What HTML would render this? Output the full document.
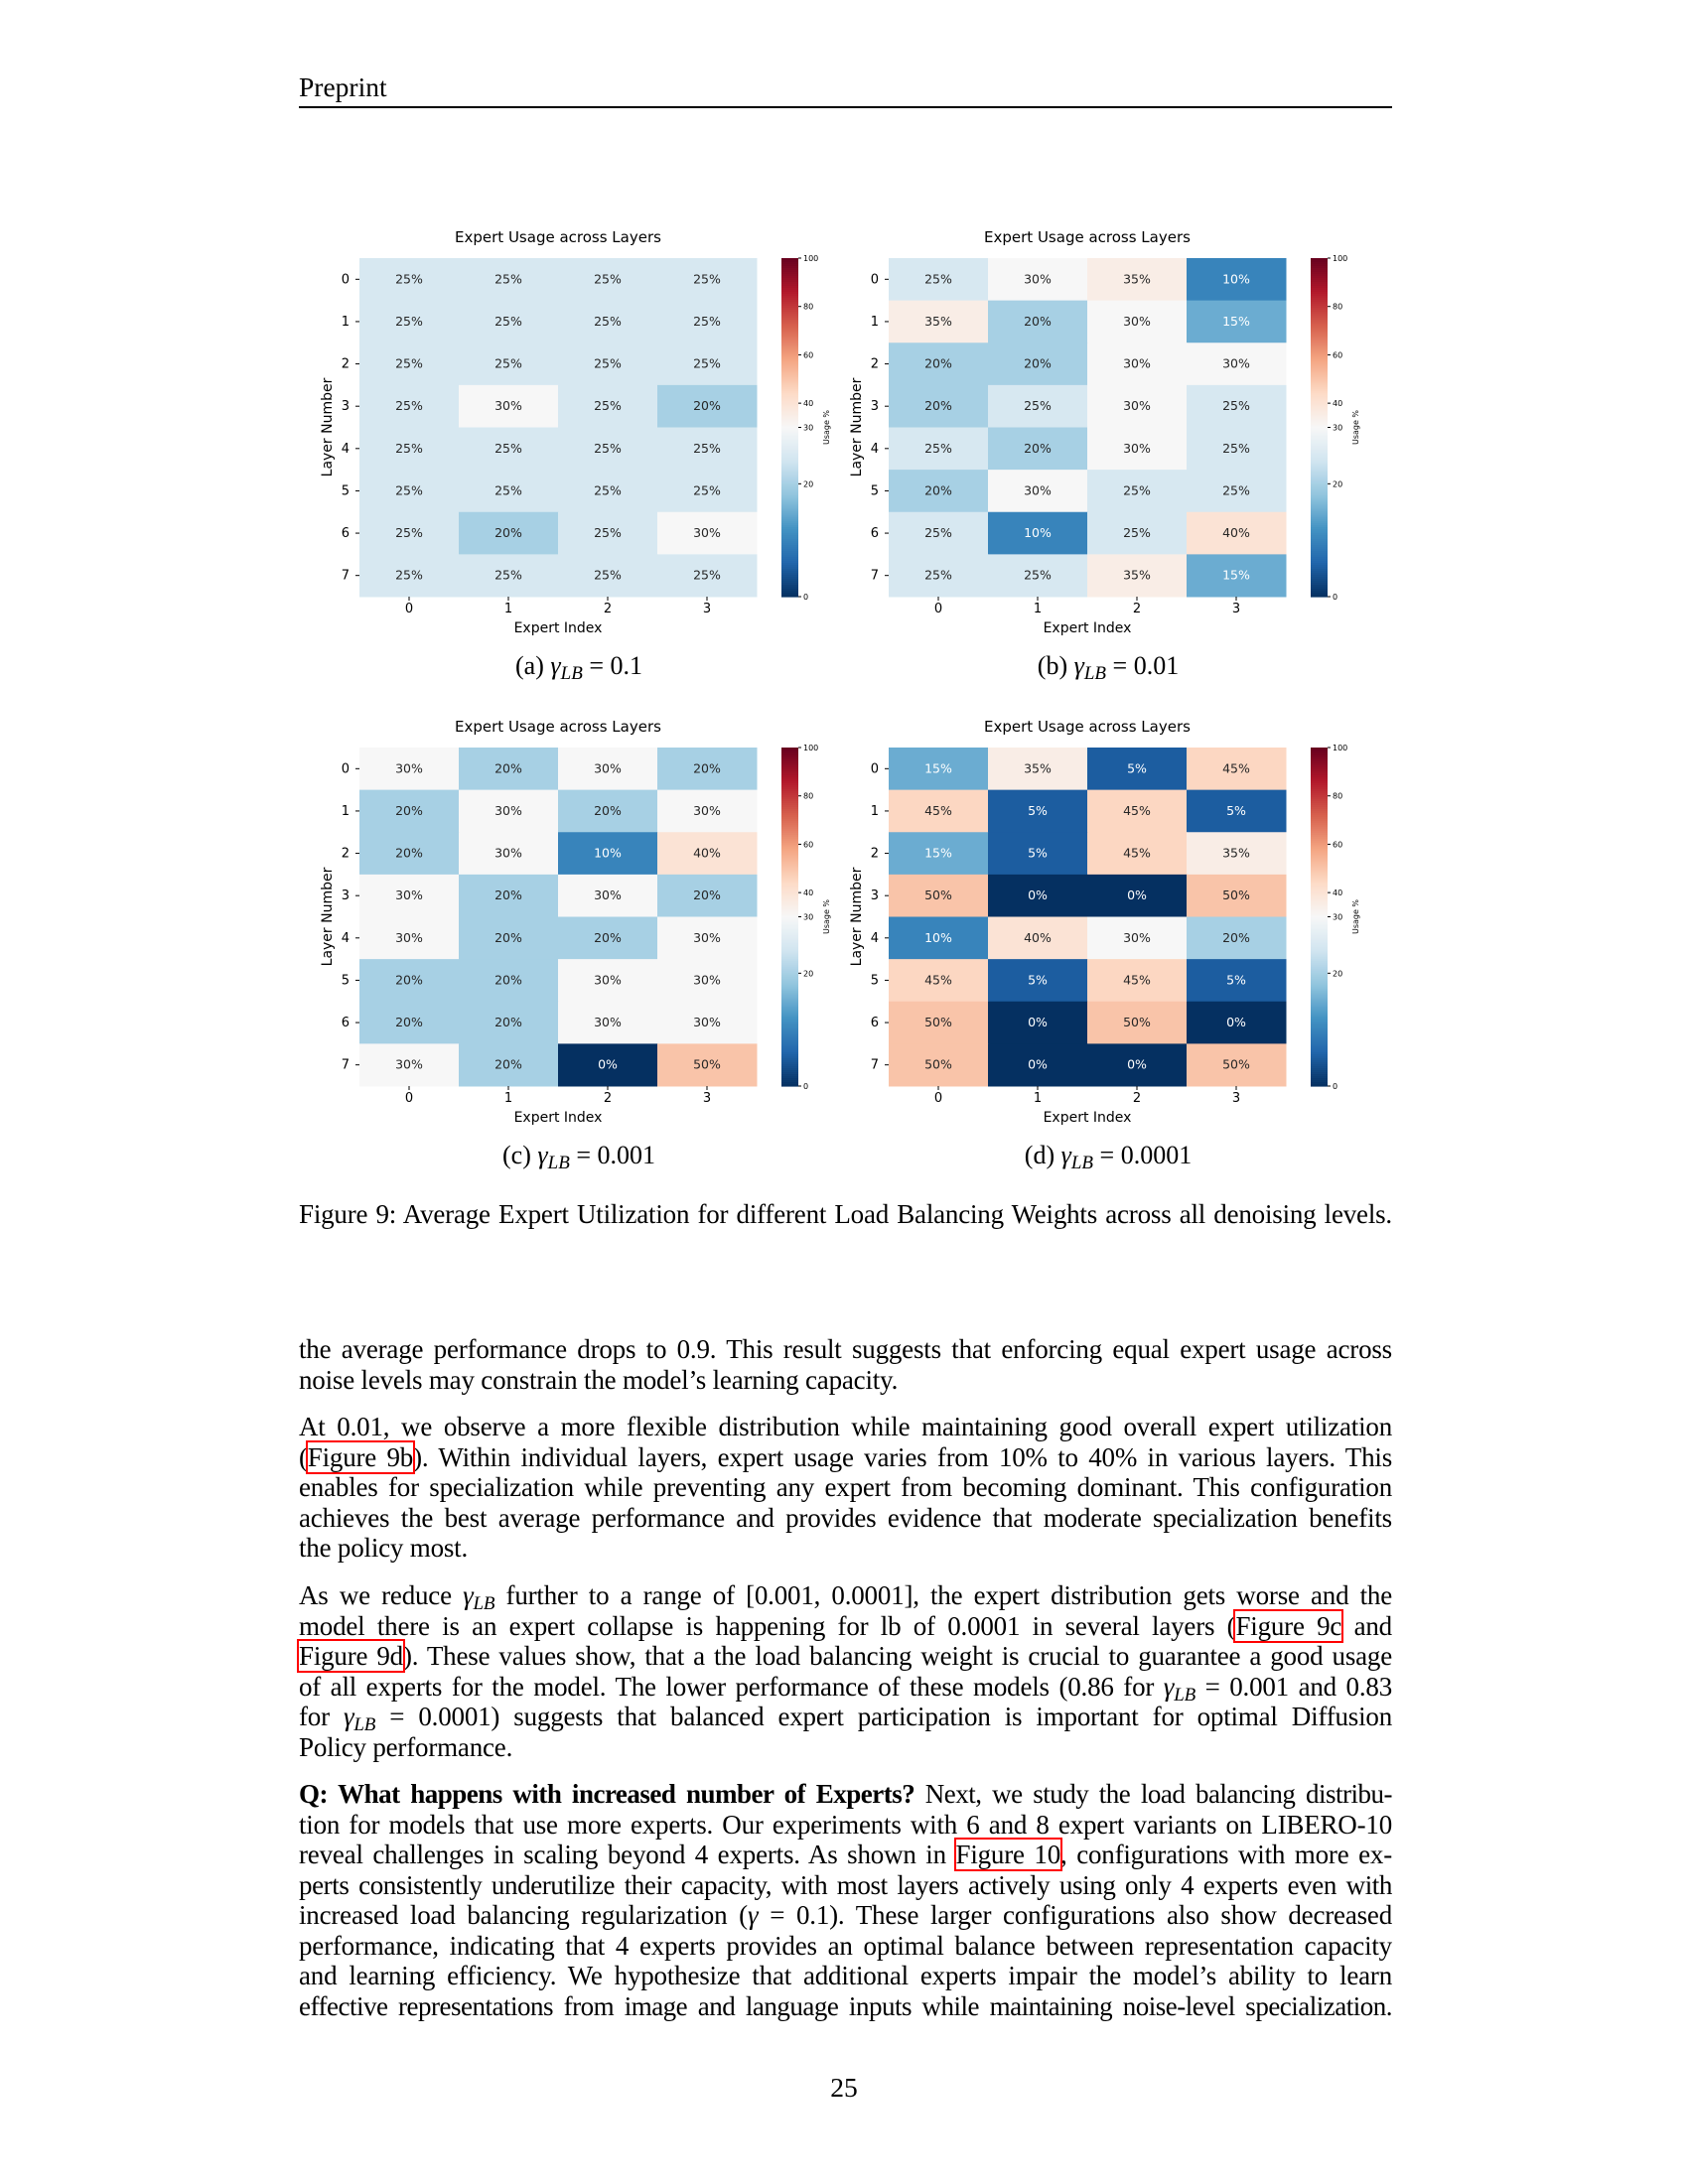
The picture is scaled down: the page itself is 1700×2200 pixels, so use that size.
<!DOCTYPE html>
<html><head><meta charset="utf-8">
<style>
html,body{margin:0;padding:0;background:#fff;}
body{width:1700px;height:2200px;position:relative;overflow:hidden;font-family:"Liberation Serif",serif;color:#000;}
.abs{position:absolute;}
.line{position:absolute;left:301px;width:1101px;font-size:27px;line-height:31px;white-space:nowrap;}
.j{text-align:justify;text-align-last:justify;white-space:normal;height:31px;overflow:visible;word-spacing:-2px;letter-spacing:-0.2px;}
.ref{outline:2px solid #f00;outline-offset:0px;}
.m{font-style:italic;}
sub{font-size:19px;font-style:italic;vertical-align:-5px;line-height:0;}
.cap{position:absolute;font-size:26px;white-space:nowrap;transform:translateX(-50%);}
</style></head>
<body>
<div class="abs" style="left:301px;top:72px;font-size:27.5px;">Preprint</div>
<div class="abs" style="left:301px;top:107px;width:1101px;height:1.5px;background:#000;"></div>

<svg id="fig" class="abs" style="left:0;top:0" width="1700" height="1200"></svg>

<div class="cap" style="left:583px;top:656px;">(a) <span class="m">γ</span><sub>LB</sub> = 0.1</div>
<div class="cap" style="left:1116px;top:656px;">(b) <span class="m">γ</span><sub>LB</sub> = 0.01</div>
<div class="cap" style="left:583px;top:1149px;">(c) <span class="m">γ</span><sub>LB</sub> = 0.001</div>
<div class="cap" style="left:1116px;top:1149px;">(d) <span class="m">γ</span><sub>LB</sub> = 0.0001</div>

<div class="line j" style="top:1208px;">Figure 9: Average Expert Utilization for different Load Balancing Weights across all denoising levels.</div>

<div>
<div class="line j" style="top:1344px;">the average performance drops to 0.9. This result suggests that enforcing equal expert usage across</div>
<div class="line" style="top:1375px;letter-spacing:-0.2px;">noise levels may constrain the model’s learning capacity.</div>

<div class="line j" style="top:1422px;">At 0.01, we observe a more flexible distribution while maintaining good overall expert utilization</div>
<div class="line j" style="top:1453px;">(<span class="ref">Figure 9b</span>). Within individual layers, expert usage varies from 10% to 40% in various layers. This</div>
<div class="line j" style="top:1483px;">enables for specialization while preventing any expert from becoming dominant. This configuration</div>
<div class="line j" style="top:1514px;">achieves the best average performance and provides evidence that moderate specialization benefits</div>
<div class="line" style="top:1544px;letter-spacing:-0.2px;">the policy most.</div>

<div class="line j" style="top:1592px;">As we reduce <span class="m">γ</span><sub>LB</sub> further to a range of [0.001, 0.0001], the expert distribution gets worse and the</div>
<div class="line j" style="top:1623px;">model there is an expert collapse is happening for lb of 0.0001 in several layers (<span class="ref">Figure 9c</span> and</div>
<div class="line j" style="top:1653px;"><span class="ref">Figure 9d</span>). These values show, that a the load balancing weight is crucial to guarantee a good usage</div>
<div class="line j" style="top:1684px;">of all experts for the model. The lower performance of these models (0.86 for <span class="m">γ</span><sub>LB</sub> = 0.001 and 0.83</div>
<div class="line j" style="top:1714px;">for <span class="m">γ</span><sub>LB</sub> = 0.0001) suggests that balanced expert participation is important for optimal Diffusion</div>
<div class="line" style="top:1745px;letter-spacing:-0.2px;">Policy performance.</div>

<div class="line j" style="top:1792px;letter-spacing:-0.5px;"><b>Q: What happens with increased number of Experts?</b> Next, we study the load balancing distribu-</div>
<div class="line j" style="top:1823px;">tion for models that use more experts. Our experiments with 6 and 8 expert variants on LIBERO-10</div>
<div class="line j" style="top:1853px;">reveal challenges in scaling beyond 4 experts. As shown in <span class="ref">Figure 10</span>, configurations with more ex-</div>
<div class="line j" style="top:1884px;letter-spacing:-0.4px;">perts consistently underutilize their capacity, with most layers actively using only 4 experts even with</div>
<div class="line j" style="top:1914px;">increased load balancing regularization (<span class="m">γ</span> = 0.1). These larger configurations also show decreased</div>
<div class="line j" style="top:1945px;">performance, indicating that 4 experts provides an optimal balance between representation capacity</div>
<div class="line j" style="top:1975px;">and learning efficiency. We hypothesize that additional experts impair the model’s ability to learn</div>
<div class="line j" style="top:2006px;letter-spacing:-0.5px;">effective representations from image and language inputs while maintaining noise-level specialization.</div>
</div>

<div class="abs" style="left:0;width:1700px;text-align:center;top:2087px;font-size:27.5px;">25</div>

<script>
const experts = [0,1,2,3];
const layers = [0,1,2,3,4,5,6,7];
const usageA = [[25,25,25,25],[25,25,25,25],[25,25,25,25],[25,30,25,20],[25,25,25,25],[25,25,25,25],[25,20,25,30],[25,25,25,25]];
const usageB = [[25,30,35,10],[35,20,30,15],[20,20,30,30],[20,25,30,25],[25,20,30,25],[20,30,25,25],[25,10,25,40],[25,25,35,15]];
const usageC = [[30,20,30,20],[20,30,20,30],[20,30,10,40],[30,20,30,20],[30,20,20,30],[20,20,30,30],[20,20,30,30],[30,20,0,50]];
const usageD = [[15,35,5,45],[45,5,45,5],[15,5,45,35],[50,0,0,50],[10,40,30,20],[45,5,45,5],[50,0,50,0],[50,0,0,50]];
const cbarTicks = [0,20,30,40,60,80,100];

const NS='http://www.w3.org/2000/svg';
const stops=[[0,'#053061'],[0.1,'#2166ac'],[0.2,'#4393c3'],[0.3,'#92c5de'],[0.4,'#d1e5f0'],[0.5,'#f7f7f7'],[0.6,'#fddbc7'],[0.7,'#f4a582'],[0.8,'#d6604d'],[0.9,'#b2182b'],[1,'#67001f']];
function hex(h){return [1,3,5].map(i=>parseInt(h.substr(i,2),16));}
function norm(v){return v<30?0.5*v/30:0.5+0.5*(v-30)/70;}
function cmap(t){for(let i=0;i<stops.length-1;i++){const[a,ca]=stops[i],[b,cb]=stops[i+1];if(t<=b){const f=(t-a)/(b-a);const A=hex(ca),B=hex(cb);return A.map((x,k)=>Math.round(x+(B[k]-x)*f));}}return hex('#67001f');}
function lum(c){const l=c.map(x=>{x/=255;return x<=0.03928?x/12.92:Math.pow((x+0.055)/1.055,2.4)});return 0.2126*l[0]+0.7152*l[1]+0.0722*l[2];}
const svg=document.getElementById('fig');
function el(tag,attrs,parent){const e=document.createElementNS(NS,tag);for(const k in attrs)e.setAttribute(k,attrs[k]);(parent||svg).appendChild(e);return e;}
function txt(s,attrs,parent){const e=el('text',attrs,parent);e.textContent=s;return e;}

function panel(data,X0,Y0,name){
  const W=400,H=341,cw=W/experts.length,ch=H/layers.length;
  const g=el('g',{});
  
  
  const F='DejaVu Sans, sans-serif';
  const xS=i=>X0+i*cw, yS=j=>Y0+j*ch;
  const t=txt('Expert Usage across Layers',{x:X0+W/2,y:Y0-16,'font-size':15,'font-family':F,'text-anchor':'middle'},g);
  
  
  layers.forEach((L,j)=>{
    experts.forEach((E,i)=>{
      const v=data[j][i];const c=cmap(norm(v));
      const r=el('rect',{x:xS(i),y:yS(j),width:cw+0.5,height:ch+0.5,fill:`rgb(${c})`},g);
      
      
      const lt=txt(v+'%',{x:xS(i)+cw/2,y:yS(j)+ch/2+4,'font-size':12.5,'font-family':F,'text-anchor':'middle',fill:lum(c)>0.408?'#262626':'#ffffff'},g);
      
      
    });
    const yt=txt(String(L),{x:X0-10,y:yS(j)+ch/2+4,'font-size':13,'font-family':F,'text-anchor':'end'},g);
    
    
    el('line',{x1:X0-4,x2:X0,y1:yS(j)+ch/2,y2:yS(j)+ch/2,stroke:'#000','stroke-width':1},g);
  });
  experts.forEach((E,i)=>{
    el('line',{x1:xS(i)+cw/2,x2:xS(i)+cw/2,y1:Y0+H,y2:Y0+H+4,stroke:'#000','stroke-width':1},g);
    const xt=txt(String(E),{x:xS(i)+cw/2,y:Y0+H+16,'font-size':13,'font-family':F,'text-anchor':'middle'},g);
    
    
  });
  const xa=txt('Expert Index',{x:X0+W/2,y:Y0+H+36,'font-size':14,'font-family':F,'text-anchor':'middle'},g);
  
  
  const ya=txt('Layer Number',{x:0,y:0,'font-size':14,'font-family':F,'text-anchor':'middle',transform:`translate(${X0-28},${Y0+H/2}) rotate(-90)`},g);
  
  
  const CX=X0+425,CW=17;
  const cb=el('g',{},g);
  
  
  const N=171;
  for(let k=0;k<N;k++){
    const t0=k/N;const c=cmap(1-(k+0.5)/N);
    el('rect',{x:CX,y:Y0+t0*H,width:CW,height:H/N+0.6,fill:`rgb(${c})`},cb);
  }
  cbarTicks.forEach(v=>{
    const y=Y0+H*(1-norm(v));
    el('line',{x1:CX+CW,x2:CX+CW+3,y1:y,y2:y,stroke:'#000','stroke-width':1},cb);
    const ct=txt(String(v),{x:CX+CW+5,y:y+3,'font-size':8,'font-family':F},cb);
    
    
  });
  const ul=txt('Usage %',{x:0,y:0,'font-size':8,'font-family':F,'text-anchor':'middle',transform:`translate(${CX+CW+31},${Y0+H/2}) rotate(-90)`},cb);
  
  
}
panel(usageA,362,260,'heatmap-a');
panel(usageB,895,260,'heatmap-b');
panel(usageC,362,753,'heatmap-c');
panel(usageD,895,753,'heatmap-d');
</script>
</body></html>
